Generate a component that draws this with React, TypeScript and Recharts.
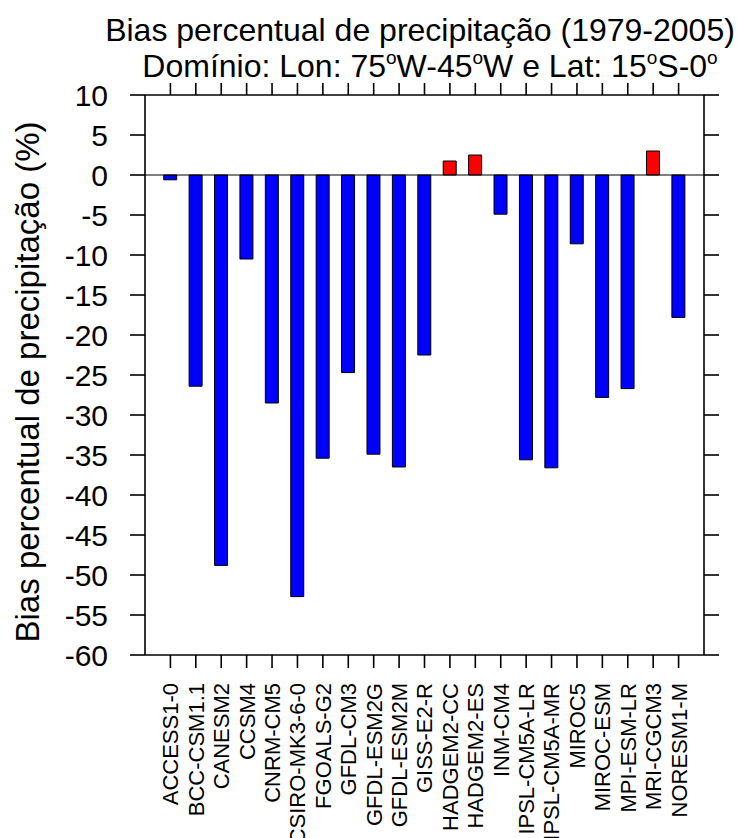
import React from 'react';
import { ComposedChart, Bar, Line, XAxis, YAxis, Cell, ReferenceLine } from 'recharts';

const models = [
  'ACCESS1-0', 'BCC-CSM1.1', 'CANESM2', 'CCSM4', 'CNRM-CM5', 'CSIRO-MK3-6-0',
  'FGOALS-G2', 'GFDL-CM3', 'GFDL-ESM2G', 'GFDL-ESM2M', 'GISS-E2-R', 'HADGEM2-CC',
  'HADGEM2-ES', 'INM-CM4', 'IPSL-CM5A-LR', 'IPSL-CM5A-MR', 'MIROC5', 'MIROC-ESM',
  'MPI-ESM-LR', 'MRI-CGCM3', 'NORESM1-M',
];

// bias percentual (%) por modelo
const bias = [
  -0.6, -26.4, -48.8, -10.5, -28.5, -52.7,
  -35.4, -24.7, -34.9, -36.5, -22.5, 1.75,
  2.5, -4.9, -35.6, -36.6, -8.6, -27.8,
  -26.7, 3.0, -17.8,
];

const yTicks = [10, 5, 0, -5, -10, -15, -20, -25, -30, -35, -40, -45, -50, -55, -60];

const data = models.map((m, i) => ({ model: m, bias: bias[i] }));

const font = '"Liberation Sans", Arial, Helvetica, sans-serif';
const pad = { left: 12.7, right: 12.7 };
const axisStyle = { stroke: '#000', strokeWidth: 1.6 };

const ModelTick = (props: any) => {
  const { x, y, payload } = props;
  return (
    <text
      x={x}
      y={y}
      transform={`rotate(-90 ${x} ${y})`}
      textAnchor="end"
      dy="0.36em"
      fontSize={22}
      fontFamily={font}
      fill="#000"
    >
      {payload.value}
    </text>
  );
};

// tick marks only, no labels
const NoLabel = () => <g />;

const Sup = ({ children }: { children: string }) => (
  <tspan dy={-13} fontSize={19}>{children}</tspan>
);

export default function App() {
  return (
    <div style={{ position: 'absolute', left: 0, top: 0, width: 737, height: 838, background: '#fff' }}>
      <ComposedChart
        width={737}
        height={838}
        data={data}
        margin={{ top: 0, right: 0, bottom: 0, left: 0 }}
      >
        <XAxis
          xAxisId="bottom"
          dataKey="model"
          orientation="bottom"
          height={183}
          interval={0}
          tickSize={13}
          tickMargin={15}
          tick={<ModelTick />}
          padding={pad}
          axisLine={axisStyle}
          tickLine={axisStyle}
        />
        <XAxis
          xAxisId="top"
          dataKey="model"
          orientation="top"
          height={95}
          interval={0}
          tickSize={12}
          tick={NoLabel}
          padding={pad}
          axisLine={axisStyle}
          tickLine={axisStyle}
        />
        <YAxis
          yAxisId="left"
          width={145}
          domain={[-60, 10]}
          ticks={yTicks}
          interval={0}
          tickSize={15}
          tickMargin={22}
          tick={{ fontSize: 30, fontFamily: font, fill: '#000' }}
          axisLine={axisStyle}
          tickLine={axisStyle}
        />
        <YAxis
          yAxisId="right"
          orientation="right"
          width={33}
          domain={[-60, 10]}
          ticks={yTicks}
          interval={0}
          tickSize={15}
          tick={NoLabel}
          axisLine={axisStyle}
          tickLine={axisStyle}
        />
        <Bar
          dataKey="bias"
          xAxisId="bottom"
          yAxisId="left"
          barSize={13}
          stroke="#000"
          strokeWidth={1}
          isAnimationActive={false}
        >
          {data.map((d) => (
            <Cell key={d.model} fill={d.bias >= 0 ? '#ff0000' : '#0000ff'} />
          ))}
        </Bar>
        {/* invisible series so the top and right frame axes get their ticks */}
        <Line
          dataKey="bias"
          xAxisId="top"
          yAxisId="right"
          stroke="none"
          dot={false}
          activeDot={false}
          isAnimationActive={false}
        />
        <ReferenceLine y={0} xAxisId="bottom" yAxisId="left" stroke="#000" strokeWidth={1.2} />
      </ComposedChart>
      <svg
        width={737}
        height={838}
        style={{ position: 'absolute', left: 0, top: 0, pointerEvents: 'none' }}
        fontFamily={font}
        fill="#000"
      >
        <text x={420} y={41} textAnchor="middle" fontSize={32}>
          Bias percentual de precipitação (1979-2005)
        </text>
        <text x={430} y={77} textAnchor="middle" fontSize={32}>
          Domínio: Lon: 75<Sup>o</Sup>
          <tspan dy={13}>W-45</tspan>
          <Sup>o</Sup>
          <tspan dy={13}>W e Lat: 15</tspan>
          <Sup>o</Sup>
          <tspan dy={13}>S-0</tspan>
          <Sup>o</Sup>
        </text>
        <text
          x={39}
          y={382}
          transform="rotate(-90 39 382)"
          textAnchor="middle"
          fontSize={33}
        >
          Bias percentual de precipitação (%)
        </text>
      </svg>
    </div>
  );
}
